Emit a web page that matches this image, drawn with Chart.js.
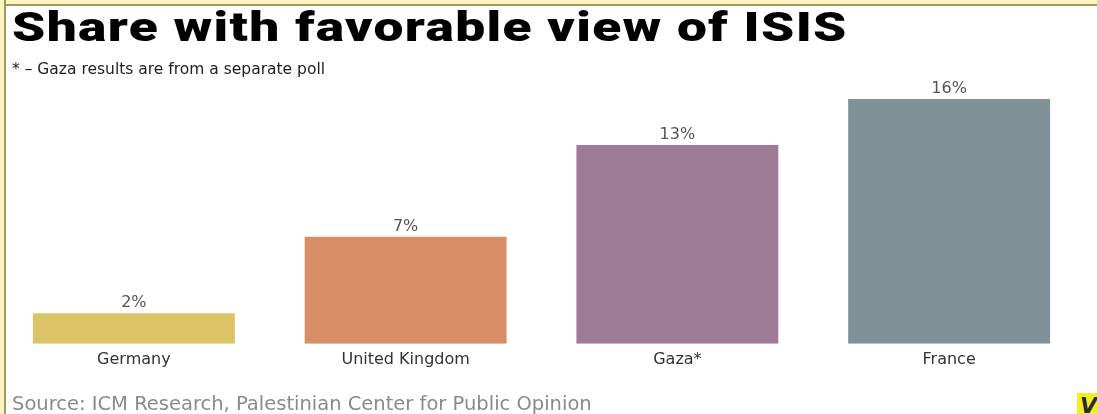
<!DOCTYPE html>
<html>
<head>
<meta charset="utf-8">
<script src="https://cdn.jsdelivr.net/npm/chart.js@4.4.0/dist/chart.umd.min.js"></script>
<style>
  html, body { margin: 0; padding: 0; background: #fff; }
  body { width: 1097px; height: 414px; position: relative; overflow: hidden; font-family: "DejaVu Sans", sans-serif; }
  #frame-top { position: absolute; left: 0; top: 0; width: 1097px; height: 4px; background: #fdf6c0; border-bottom: 2px solid #a09a5c; }
  #frame-left { position: absolute; left: 0; top: 0; width: 4px; height: 414px; background: #fdf6c0; border-right: 2px solid #a09a5c; }
  #title { position: absolute; left: 12px; top: 4px; font-family: Roboto, sans-serif; font-weight: 900; font-size: 40px; letter-spacing: 1px; color: #000; white-space: nowrap; transform-origin: 0 0; }
  #note { position: absolute; left: 12px; top: 60px; font-size: 15.5px; color: #222; white-space: nowrap; }
  #source { position: absolute; left: 12px; top: 392px; font-size: 19.5px; color: #8a8a8a; white-space: nowrap; }
  #logo { position: absolute; left: 1077px; top: 393px; width: 24px; height: 24px; background: #f4ee25; color: #2a2a3a; font-family: "DejaVu Sans", sans-serif; font-weight: bold; font-style: italic; font-size: 22px; line-height: 26px; padding-left: 3px; box-sizing: border-box; }
  #wrap { position: absolute; left: -2px; top: 0; width: 1087px; height: 414px; }
</style>
</head>
<body>
<div id="wrap"><canvas id="chart"></canvas></div>
<div id="frame-top"></div>
<div id="frame-left"></div>
<div id="title">Share with favorable view of ISIS</div>
<div id="note">* – Gaza results are from a separate poll</div>
<div id="source">Source: ICM Research, Palestinian Center for Public Opinion</div>
<div id="logo">V</div>
<script>
var countries = ["Germany", "United Kingdom", "Gaza*", "France"];
var favorable = [2, 7, 13, 16];
var barColors = ["#dcc466", "#d98e68", "#9d7b97", "#7f9298"];

// stretch the heavy headline to the width it has in the original
var title = document.getElementById('title');
title.style.transform = 'scaleX(' + (836 / title.offsetWidth) + ')';

// draws "N%" above each bar
var valueLabels = {
  id: 'valueLabels',
  afterDatasetsDraw: function (chart) {
    var ctx = chart.ctx;
    var meta = chart.getDatasetMeta(0);
    ctx.save();
    ctx.font = '16px "DejaVu Sans", sans-serif';
    ctx.fillStyle = '#555';
    ctx.textAlign = 'center';
    ctx.textBaseline = 'bottom';
    meta.data.forEach(function (bar, i) {
      ctx.fillText(favorable[i] + '%', bar.x, bar.y - 2);
    });
    ctx.restore();
  }
};

var ctx = document.getElementById('chart').getContext('2d');
window.isisChart = new Chart(ctx, {
  type: 'bar',
  data: {
    labels: countries,
    datasets: [{
      data: favorable,
      backgroundColor: barColors,
      borderWidth: 0,
      barPercentage: 0.743,
      categoryPercentage: 1
    }]
  },
  options: {
    responsive: true,
    maintainAspectRatio: false,
    animation: false,
    layout: { padding: { top: 99, bottom: 39, left: 0, right: 0 } },
    plugins: { legend: { display: false }, tooltip: { enabled: false } },
    scales: {
      x: {
        grid: { display: false, drawTicks: false },
        border: { display: false },
        ticks: { color: '#333', padding: 6, font: { family: '"DejaVu Sans", sans-serif', size: 16 } }
      },
      y: { display: false, min: 0, max: 16 }
    }
  },
  plugins: [valueLabels]
});
</script>
</body>
</html>
